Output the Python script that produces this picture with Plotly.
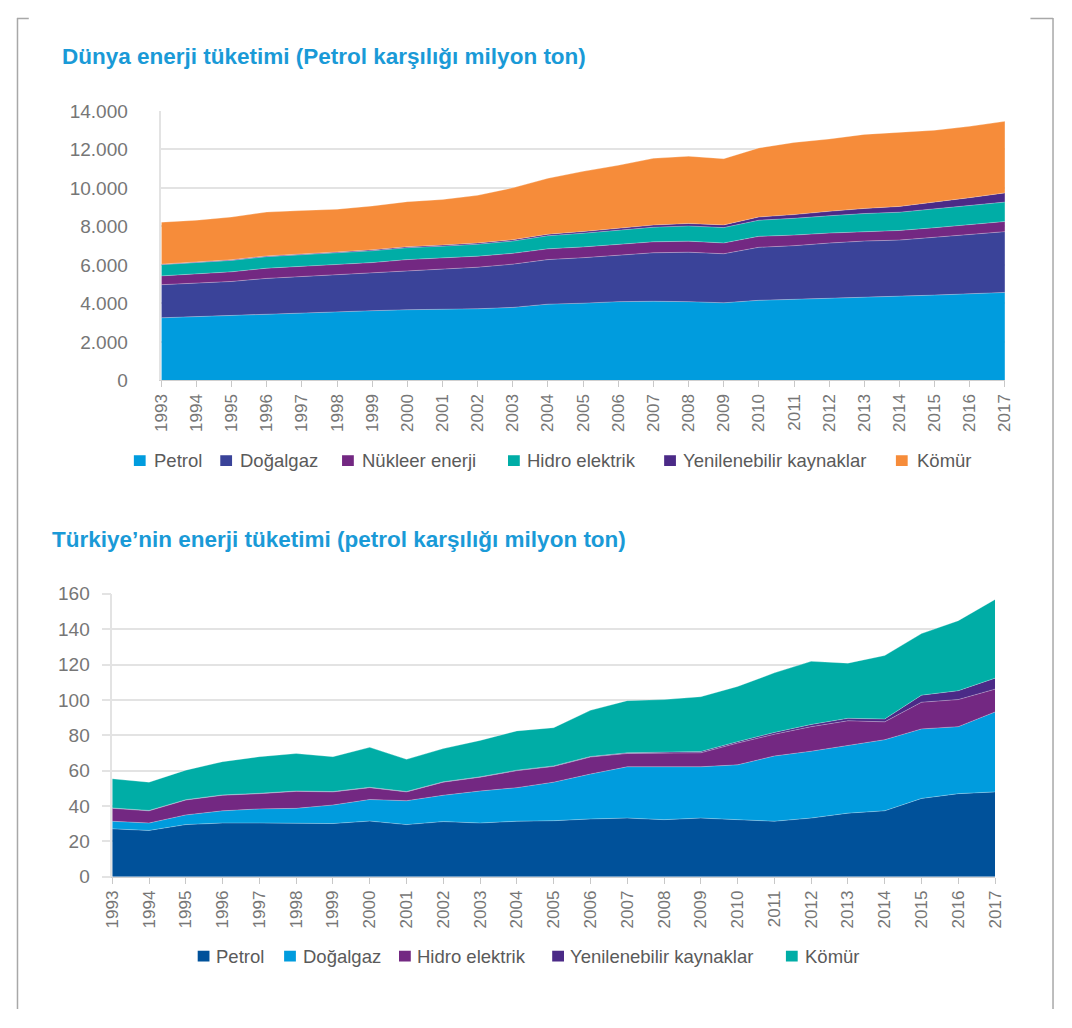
import plotly.graph_objects as go

# ---------------- DATA ----------------
years = list(range(1993, 2018))
year_labels = [str(y) for y in years]

# Dünya enerji tüketimi (Petrol karşılığı milyon ton)
world_names = ["Petrol", "Doğalgaz", "Nükleer enerji", "Hidro elektrik",
               "Yenilenebilir kaynaklar", "Kömür"]
world_petrol = [3250, 3310, 3380, 3450, 3530, 3570, 3620, 3670, 3700, 3720, 3790, 3960,
                4010, 4090, 4110, 4090, 4030, 4160, 4210, 4260, 4330, 4360, 4430, 4500, 4570]
world_gas = [1720, 1745, 1760, 1850, 1870, 1910, 1945, 2030, 2085, 2160, 2250, 2315,
             2365, 2410, 2520, 2570, 2550, 2755, 2790, 2875, 2910, 2930, 2995, 3090, 3160]
world_nuclear = [460, 470, 500, 530, 540, 540, 555, 575, 580, 575, 560, 560,
                 560, 570, 570, 575, 560, 570, 550, 520, 500, 500, 510, 515, 525]
world_hydro = [580, 585, 595, 600, 605, 610, 615, 620, 610, 620, 640, 680,
               710, 740, 760, 790, 800, 840, 870, 900, 930, 950, 970, 990, 1010]
world_renew = [30, 32, 35, 38, 42, 45, 48, 52, 55, 62, 68, 78,
               88, 98, 110, 125, 140, 165, 195, 230, 265, 300, 345, 400, 480]
world_coal = [2180, 2180, 2220, 2280, 2240, 2220, 2280, 2340, 2370, 2480, 2700, 2910,
              3130, 3270, 3470, 3500, 3440, 3590, 3750, 3760, 3850, 3860, 3750, 3710, 3720]
world_series = [world_petrol, world_gas, world_nuclear, world_hydro, world_renew, world_coal]
world_colors = ["#009CDE", "#3A4399", "#732882", "#00ADA6", "#4B2A87", "#F68C3A"]
world_yticks = [0, 2000, 4000, 6000, 8000, 10000, 12000, 14000]

# Türkiye'nin enerji tüketimi (petrol karşılığı milyon ton)
tr_names = ["Petrol", "Doğalgaz", "Hidro elektrik", "Yenilenebilir kaynaklar", "Kömür"]
tr_petrol = [27.1, 26.2, 29.5, 30.4, 30.4, 30.4, 30.1, 31.5, 29.5, 31.2, 30.4, 31.4,
             31.7, 32.7, 33.2, 32.3, 33.2, 32.3, 31.4, 33.2, 36.0, 37.3, 44.3, 47.0, 48.0]
tr_gas = [4.3, 4.2, 5.5, 6.9, 8.0, 8.3, 10.5, 12.2, 13.5, 14.9, 18.1, 19.0,
          21.8, 25.4, 29.0, 30.1, 29.0, 31.0, 36.9, 37.8, 38.2, 40.2, 39.3, 37.9, 45.2]
tr_hydro = [7.3, 6.9, 8.4, 8.8, 8.6, 9.6, 7.4, 6.7, 5.0, 7.4, 7.8, 9.6,
            8.9, 9.6, 7.5, 7.7, 7.9, 12.3, 12.3, 13.9, 14.0, 10.1, 15.1, 15.3, 12.9]
tr_renew = [0.2, 0.2, 0.2, 0.2, 0.2, 0.2, 0.2, 0.2, 0.2, 0.2, 0.2, 0.3,
            0.3, 0.3, 0.4, 0.5, 0.7, 0.8, 1.0, 1.2, 1.4, 1.6, 4.0, 5.0, 6.2]
tr_coal = [16.5, 16.0, 16.7, 18.8, 20.7, 21.2, 19.7, 22.6, 18.2, 18.8, 20.6, 22.2,
           21.6, 26.1, 29.5, 29.6, 31.0, 31.2, 33.7, 35.7, 31.2, 35.9, 34.8, 39.6, 44.5]
tr_series = [tr_petrol, tr_gas, tr_hydro, tr_renew, tr_coal]
tr_colors = ["#00519A", "#009CDE", "#732882", "#4B2A87", "#00ADA6"]
tr_yticks = [0, 20, 40, 60, 80, 100, 120, 140, 160]

title_world = "Dünya enerji tüketimi (Petrol karşılığı milyon ton)"
title_tr = "Türkiye’nin enerji tüketimi (petrol karşılığı milyon ton)"

# ---------------- LAYOUT HELPERS ----------------
OFF = 8            # default body margin of the html page
W, H = 1056, 1012  # figure size inside the window


def fx(px):
    return (px - OFF) / W


def fy(py):
    return 1 - (py - OFF) / H


FONT = "Liberation Sans, Arial, sans-serif"
TICK_COLOR = "#767676"
GRID = "#e3e3e3"

fig = go.Figure()

for name, vals, col in zip(world_names, world_series, world_colors):
    fig.add_trace(go.Scatter(
        x=years, y=vals, name=name, mode="lines", stackgroup="world",
        line=dict(width=0.8, color="rgba(255,255,255,0.35)"),
        fillcolor=col, xaxis="x", yaxis="y", showlegend=False))

for name, vals, col in zip(tr_names, tr_series, tr_colors):
    fig.add_trace(go.Scatter(
        x=years, y=vals, name=name, mode="lines", stackgroup="tr",
        line=dict(width=0.8, color="rgba(255,255,255,0.35)"),
        fillcolor=col, xaxis="x2", yaxis="y2", showlegend=False))

xcommon = dict(range=[1993, 2017], tickmode="array", tickvals=years, ticktext=year_labels,
               tickangle=-90, ticks="outside", ticklen=6, tickcolor="#c8c8c8",
               showgrid=False, showline=True, linecolor="#d0d0d0", linewidth=1,
               zeroline=False, tickfont=dict(family=FONT, size=17, color=TICK_COLOR))

fig.update_layout(
    width=W, height=H, margin=dict(l=0, r=0, t=0, b=0),
    paper_bgcolor="white", plot_bgcolor="white",
    separators=",.",
    font=dict(family=FONT),
    xaxis=dict(domain=[fx(155), fx(1014)], anchor="y", **xcommon),
    yaxis=dict(domain=[fy(378), fy(103)], anchor="x", range=[0, 14000],
               tickmode="array", tickvals=world_yticks, tickformat=",d",
               showgrid=True, gridcolor=GRID, gridwidth=1.5,
               showline=True, linecolor=GRID, linewidth=1.5, zeroline=False,
               ticks="", ticklabelstandoff=28,
               tickfont=dict(family=FONT, size=19, color=TICK_COLOR)),
    xaxis2=dict(domain=[fx(105), fx(1004)], anchor="y2", **xcommon),
    yaxis2=dict(domain=[fy(885), fy(596)], anchor="x2", range=[0, 160],
                tickmode="array", tickvals=tr_yticks,
                showgrid=True, gridcolor=GRID, gridwidth=1.5,
                showline=True, linecolor=GRID, linewidth=1.5, zeroline=False,
                ticks="outside", ticklen=9, tickcolor=GRID, tickwidth=1.5,
                ticklabelstandoff=8,
                tickfont=dict(family=FONT, size=19, color=TICK_COLOR)),
)

# Titles
TITLE_COLOR = "#1A9AD7"
fig.add_annotation(text="<b>" + title_world + "</b>", x=fx(52), y=fy(47),
                   xref="paper", yref="paper", xanchor="left", yanchor="middle",
                   showarrow=False, font=dict(family=FONT, size=22.5, color=TITLE_COLOR))
fig.add_annotation(text="<b>" + title_tr + "</b>", x=fx(42), y=fy(541),
                   xref="paper", yref="paper", xanchor="left", yanchor="middle",
                   showarrow=False, font=dict(family=FONT, size=22.5, color=TITLE_COLOR))

# Legends (square swatch + label), positions in page pixels
LEG_COLOR = "#5a5a5a"
world_leg_sq = [127, 215, 339, 508, 667, 903]
world_leg_tx = [145, 233, 357, 525, 684, 922]
tr_leg_sq = [192, 280, 397, 553, 791]
tr_leg_tx = [209, 297, 413, 569, 808]


def add_legend(names, colors, sq_x, tx_x, cy):
    for n, c, sx, tx in zip(names, colors, sq_x, tx_x):
        fig.add_shape(type="rect", xref="paper", yref="paper",
                      x0=fx(sx), x1=fx(sx + 12), y0=fy(cy + 5.5), y1=fy(cy - 5.5),
                      fillcolor=c, line=dict(width=0))
        fig.add_annotation(text=n, x=fx(tx), y=fy(cy), xref="paper", yref="paper",
                           xanchor="left", yanchor="middle", showarrow=False,
                           font=dict(family=FONT, size=18.5, color=LEG_COLOR))


add_legend(world_names, world_colors, world_leg_sq, world_leg_tx, 460)
add_legend(tr_names, tr_colors, tr_leg_sq, tr_leg_tx, 966)

# Page frame lines
FRAME = "#a8a8a8"
for (x0, y0, x1, y1) in [(8.5, 8, 8.5, 1020), (1063, 8, 1063, 1020), (8, 8.5, 20, 8.5),
                         (1040, 8.5, 1063, 8.5)]:
    fig.add_shape(type="line", xref="paper", yref="paper",
                  x0=fx(x0), x1=fx(x1), y0=fy(y0), y1=fy(y1),
                  line=dict(color=FRAME, width=1.5))

fig.write_html("out.html")
